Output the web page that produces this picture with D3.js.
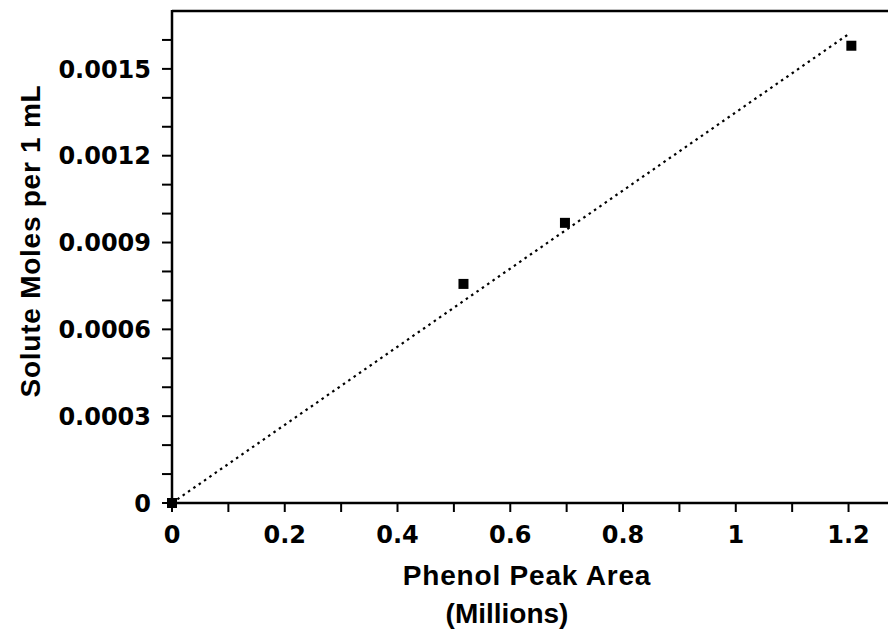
<!DOCTYPE html>
<html>
<head>
<meta charset="utf-8">
<script src="https://cdn.jsdelivr.net/npm/d3@7"></script>
<style>
  html, body { margin: 0; padding: 0; background: #fff; }
  svg text { font-family: "Liberation Sans", Arial, sans-serif; font-weight: bold; fill: #000; }
  svg text.tick-label { font-family: "DejaVu Sans", sans-serif; }
</style>
</head>
<body>
<svg id="chart"></svg>
<script>
// calibration points (peak area in millions, solute moles per mL)
const peakArea = [0, 0.517, 0.697, 1.205];
const soluteMoles = [0, 0.000757, 0.000968, 0.00158];

// dotted fit line end points
const fitX = [0, 1.2];
const fitY = [0, 0.00162];

const xTickLabels = [0, 0.2, 0.4, 0.6, 0.8, 1, 1.2];
const yTickLabels = [0, 0.0003, 0.0006, 0.0009, 0.0012, 0.0015];

const width = 888, height = 636;
const plotLeft = 172, plotRight = 888, plotTop = 11, plotBottom = 503;

const svg = d3.select("#chart")
    .attr("width", width)
    .attr("height", height);

const x = d3.scaleLinear().domain([0, 1.27]).range([plotLeft, plotRight]);
const y = d3.scaleLinear().domain([0, 0.0017]).range([plotBottom, plotTop]);

// minor + major ticks
const xTicks = d3.range(0, 13).map(i => i / 10);
const yTicks = d3.range(0, 17).map(i => i / 10000);

svg.append("g")
    .selectAll("line")
    .data(xTicks)
    .enter()
    .append("line")
    .attr("x1", d => x(d))
    .attr("x2", d => x(d))
    .attr("y1", plotBottom)
    .attr("y2", plotBottom + 9)
    .attr("stroke", "#000")
    .attr("stroke-width", 2);

svg.append("g")
    .selectAll("line")
    .data(yTicks)
    .enter()
    .append("line")
    .attr("x1", plotLeft - 10)
    .attr("x2", plotLeft)
    .attr("y1", d => y(d))
    .attr("y2", d => y(d))
    .attr("stroke", "#000")
    .attr("stroke-width", 2);

// frame: top border, left axis, bottom axis
svg.append("line")
    .attr("x1", plotLeft).attr("x2", plotRight)
    .attr("y1", plotTop).attr("y2", plotTop)
    .attr("stroke", "#000").attr("stroke-width", 2.5);
svg.append("line")
    .attr("x1", plotLeft).attr("x2", plotLeft)
    .attr("y1", plotTop - 1).attr("y2", plotBottom + 1)
    .attr("stroke", "#000").attr("stroke-width", 2.5);
svg.append("line")
    .attr("x1", plotLeft - 1).attr("x2", plotRight)
    .attr("y1", plotBottom).attr("y2", plotBottom)
    .attr("stroke", "#000").attr("stroke-width", 2.5);

// tick labels
svg.append("g")
    .selectAll("text")
    .data(xTickLabels)
    .enter()
    .append("text")
    .attr("class", "tick-label")
    .attr("x", d => x(d))
    .attr("y", 543)
    .attr("text-anchor", "middle")
    .attr("font-size", "24px")
    .text(d => d);

svg.append("g")
    .selectAll("text")
    .data(yTickLabels)
    .enter()
    .append("text")
    .attr("class", "tick-label")
    .attr("x", 151)
    .attr("y", d => y(d))
    .attr("dy", "0.36em")
    .attr("text-anchor", "end")
    .attr("font-size", "24px")
    .text(d => d === 0 ? "0" : d.toFixed(4));

// axis titles
svg.append("text")
    .attr("x", 527)
    .attr("y", 585)
    .attr("text-anchor", "middle")
    .attr("font-size", "28px")
    .attr("letter-spacing", "0.8px")
    .text("Phenol Peak Area");

svg.append("text")
    .attr("x", 507)
    .attr("y", 623)
    .attr("text-anchor", "middle")
    .attr("font-size", "28px")
    .text("(Millions)");

svg.append("text")
    .attr("transform", "translate(40,241) rotate(-90)")
    .attr("text-anchor", "middle")
    .attr("font-size", "28px")
    .attr("letter-spacing", "0.75px")
    .text("Solute Moles per 1 mL");

// dotted fit line
const line = d3.line()
    .x(d => x(d[0]))
    .y(d => y(d[1]));

svg.append("path")
    .datum(fitX.map((v, i) => [v, fitY[i]]))
    .attr("d", line)
    .attr("fill", "none")
    .attr("stroke", "#000")
    .attr("stroke-width", 2.2)
    .attr("stroke-dasharray", "2.5,4");

// square markers
const size = 10;
svg.append("g")
    .selectAll("rect")
    .data(peakArea.map((v, i) => [v, soluteMoles[i]]))
    .enter()
    .append("rect")
    .attr("x", d => x(d[0]) - size / 2)
    .attr("y", d => y(d[1]) - size / 2)
    .attr("width", size)
    .attr("height", size)
    .attr("fill", "#000");
</script>
</body>
</html>
